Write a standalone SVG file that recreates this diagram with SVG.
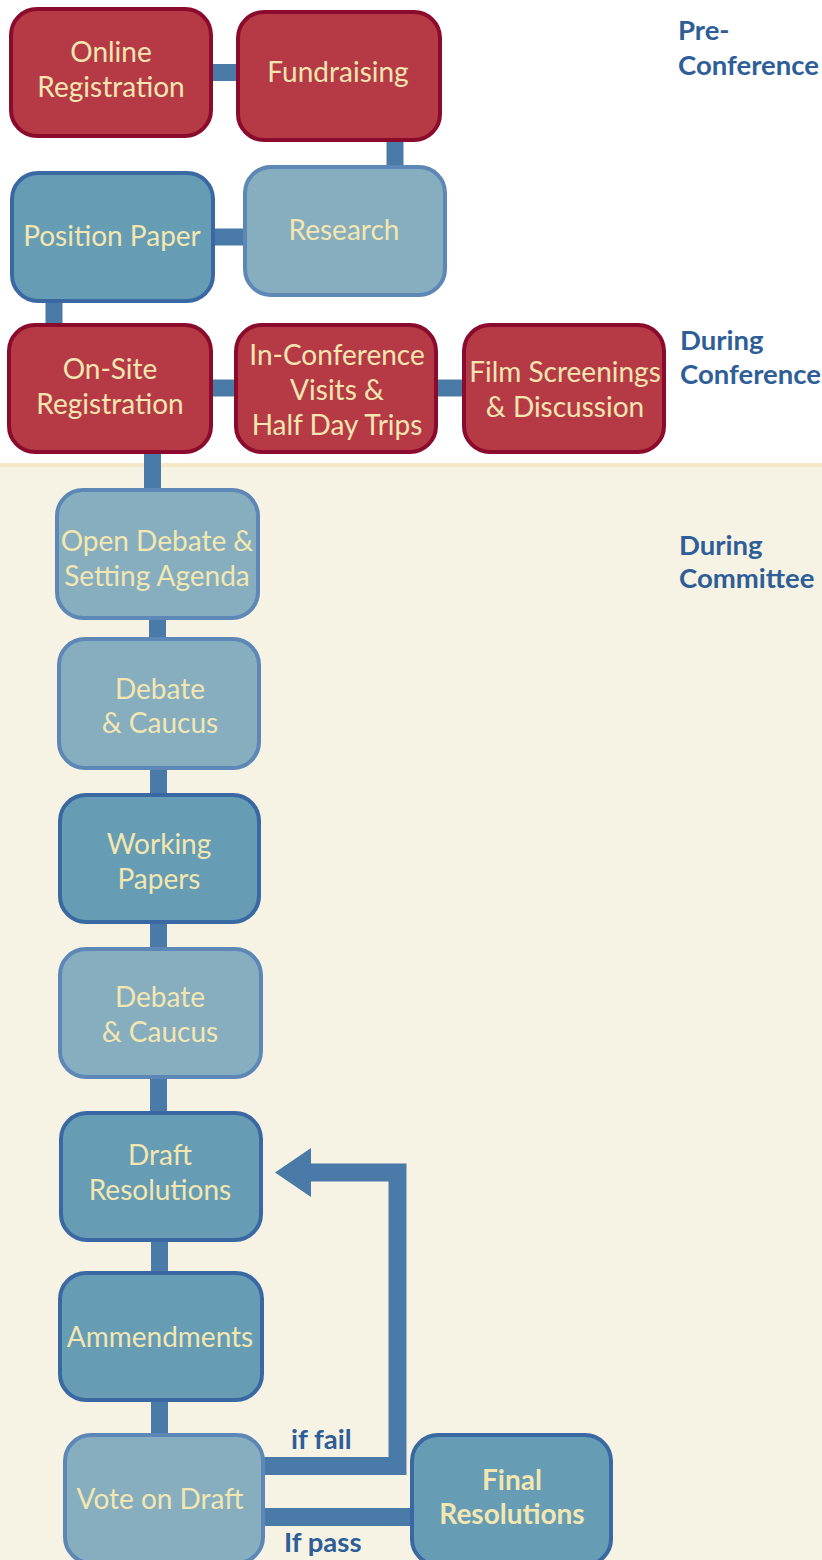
<svg xmlns="http://www.w3.org/2000/svg" width="822" height="1560" viewBox="0 0 822 1560">
<style>
.red{fill:#b63a45;stroke:#8b0b2c;stroke-width:4}
.mid{fill:#669db4;stroke:#3a68a3;stroke-width:4}
.lt{fill:#86aebf;stroke:#5d87b6;stroke-width:4}
.t{font-family:Lato,"Open Sans","Liberation Sans",sans-serif;font-size:28px;fill:#f3e6b1;text-anchor:middle}
.tb{font-weight:bold}
.lab{font-family:Lato,"Open Sans","Liberation Sans",sans-serif;font-size:27.5px;font-weight:bold;fill:#2e5e97}
.c{stroke:#4a7aa7;stroke-width:17;fill:none}
.a{stroke:#4a7aa7;stroke-width:18;fill:none;stroke-linejoin:miter}
</style>
<defs>
<marker id="ah" markerUnits="userSpaceOnUse" markerWidth="37" markerHeight="50" refX="0" refY="24.5" orient="auto" overflow="visible">
<path d="M0,0 L36,24.5 L0,49 z" fill="#4a7aa7"/>
</marker>
</defs>
<rect x="0" y="0" width="822" height="1560" fill="#ffffff"/>
<rect x="0" y="466" width="822" height="1094" fill="#f6f2e4"/>
<rect x="0" y="463" width="822" height="4" fill="#f3e9c6"/>
<g id="connectors">
<line class="c" x1="209" y1="72.5" x2="240" y2="72.5"/>
<line class="c" x1="395" y1="138" x2="395" y2="169"/>
<line class="c" x1="211" y1="237" x2="247" y2="237"/>
<line class="c" x1="54" y1="298" x2="54" y2="327"/>
<line class="c" x1="209" y1="388" x2="238" y2="388"/>
<line class="c" x1="434" y1="388" x2="466" y2="388"/>
<line class="c" x1="152.5" y1="450" x2="152.5" y2="492"/>
<line class="c" x1="157.5" y1="616" x2="157.5" y2="641"/>
<line class="c" x1="158.5" y1="766" x2="158.5" y2="797"/>
<line class="c" x1="158.5" y1="920" x2="158.5" y2="951"/>
<line class="c" x1="158.5" y1="1075" x2="158.5" y2="1115"/>
<line class="c" x1="159.5" y1="1238" x2="159.5" y2="1275"/>
<line class="c" x1="159.5" y1="1398" x2="159.5" y2="1437"/>
<polyline class="a" points="261,1466 397.5,1466 397.5,1172.5 311,1172.5" marker-end="url(#ah)"/>
<line class="a" x1="261" y1="1517" x2="414" y2="1517"/>
</g>
<g id="online-registration"><rect class="red" x="11" y="9" width="200" height="127" rx="26"/><text class="t" x="111" y="62">Online</text><text class="t" x="111" y="97">Registration</text></g>
<g id="fundraising"><rect class="red" x="238" y="12" width="202" height="128" rx="26"/><text class="t" x="338" y="82">Fundraising</text></g>
<g id="research"><rect class="lt" x="245" y="167" width="200" height="128" rx="26"/><text class="t" x="344" y="240">Research</text></g>
<g id="position-paper"><rect class="mid" x="12" y="173" width="201" height="128" rx="26"/><text class="t" x="112" y="246">Position Paper</text></g>
<g id="on-site-registration"><rect class="red" x="9" y="325" width="202" height="127" rx="26"/><text class="t" x="110" y="379">On-Site</text><text class="t" x="110" y="414">Registration</text></g>
<g id="in-conference"><rect class="red" x="236" y="325" width="200" height="127" rx="26"/><text class="t" x="337" y="365">In-Conference</text><text class="t" x="337" y="400">Visits &amp;</text><text class="t" x="337" y="435">Half Day Trips</text></g>
<g id="film-screenings"><rect class="red" x="464" y="325" width="200" height="127" rx="26"/><text class="t" x="565" y="382">Film Screenings</text><text class="t" x="565" y="417">&amp; Discussion</text></g>
<g id="open-debate"><rect class="lt" x="57" y="490" width="201" height="128" rx="26"/><text class="t" x="157" y="551">Open Debate &amp;</text><text class="t" x="157" y="586">Setting Agenda</text></g>
<g id="debate-caucus-1"><rect class="lt" x="59" y="639" width="200" height="129" rx="26"/><text class="t" x="160" y="699">Debate</text><text class="t" x="160" y="733"> &amp; Caucus</text></g>
<g id="working-papers"><rect class="mid" x="60" y="795" width="199" height="127" rx="26"/><text class="t" x="159" y="854">Working</text><text class="t" x="159" y="889">Papers</text></g>
<g id="debate-caucus-2"><rect class="lt" x="60" y="949" width="201" height="128" rx="26"/><text class="t" x="160" y="1007">Debate</text><text class="t" x="160" y="1042"> &amp; Caucus</text></g>
<g id="draft-resolutions"><rect class="mid" x="61" y="1113" width="200" height="127" rx="26"/><text class="t" x="160" y="1165">Draft</text><text class="t" x="160" y="1200">Resolutions</text></g>
<g id="ammendments"><rect class="mid" x="60" y="1273" width="202" height="127" rx="26"/><text class="t" x="160" y="1347">Ammendments</text></g>
<g id="vote-on-draft"><rect class="lt" x="65" y="1435" width="198" height="128" rx="26"/><text class="t" x="160" y="1509">Vote on Draft</text></g>
<g id="final-resolutions"><rect class="mid" x="412" y="1435" width="199" height="130" rx="26"/><text class="t tb" x="512" y="1490">Final</text><text class="t tb" x="512" y="1524">Resolutions</text></g>
<g id="labels">
<text class="lab" x="678" y="40">Pre-</text><text class="lab" x="678" y="75">Conference</text>
<text class="lab" x="680" y="350">During</text><text class="lab" x="680" y="384">Conference</text>
<text class="lab" x="679" y="555">During</text><text class="lab" x="679" y="588">Committee</text>
<text class="lab" x="291" y="1449">if fail</text>
<text class="lab" x="284" y="1552">If pass</text>
</g>
</svg>
